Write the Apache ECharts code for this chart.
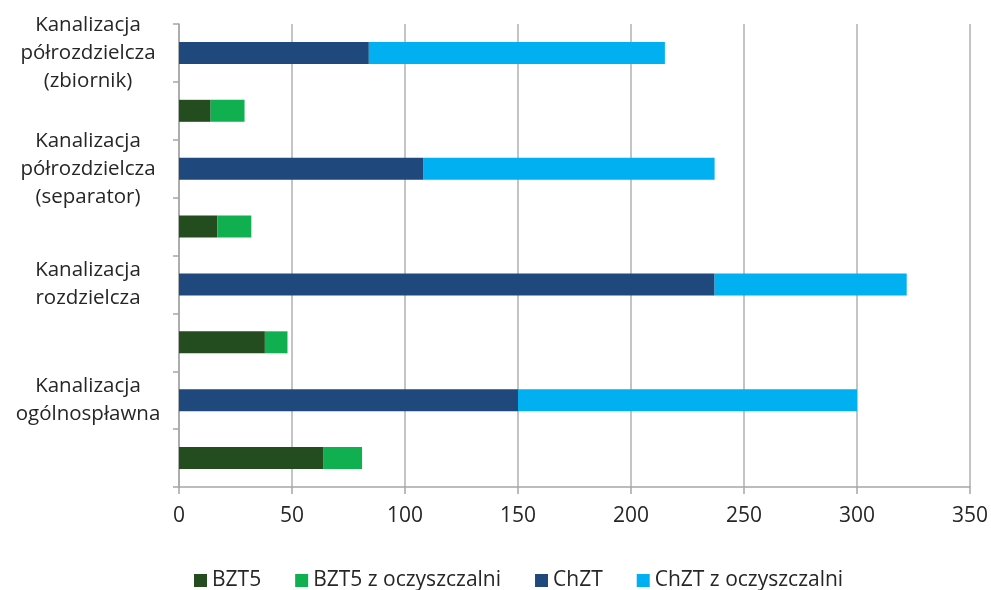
<!DOCTYPE html>
<html>
<head>
<meta charset="utf-8">
<script src="https://cdn.jsdelivr.net/npm/echarts@6/dist/echarts.min.js"></script>
<style>
  html, body { margin: 0; padding: 0; background: #fff; }
  #main { width: 991px; height: 590px; }
</style>
</head>
<body>
<div id="main"></div>
<script>
// rows from top to bottom: ChZT row, then BZT5 row, for each type of sewer
var rows = ['zb_chzt', 'zb_bzt', 'sep_chzt', 'sep_bzt', 'roz_chzt', 'roz_bzt', 'ogo_chzt', 'ogo_bzt'];
var rowLabels = [
  'Kanalizacja\npółrozdzielcza\n(zbiornik)', '',
  'Kanalizacja\npółrozdzielcza\n(separator)', '',
  'Kanalizacja\nrozdzielcza', '',
  'Kanalizacja\nogólnospławna', ''
];
var bzt5 = ['-', 14, '-', 17, '-', 38, '-', 64];
var bzt5Oczysz = ['-', 15, '-', 15, '-', 10, '-', 17];
var chzt = [84, '-', 108, '-', 237, '-', 150, '-'];
var chztOczysz = [131, '-', 129, '-', 85, '-', 150, '-'];
var xTicks = { min: 0, max: 350, step: 50 };

var myChart = echarts.init(document.getElementById('main'));
var fontFam = '"Open Sans", sans-serif';

function bar(name, data, color) {
  return {
    name: name,
    type: 'bar',
    stack: 'all',
    barWidth: 22,
    data: data,
    itemStyle: { color: color },
    emphasis: { disabled: true }
  };
}

var option = {
  animation: false,
  textStyle: { fontFamily: fontFam },
  grid: { left: 179, right: 20, top: 24, bottom: 103, containLabel: false },
  legend: {
    top: 565,
    left: 189,
    icon: 'rect',
    itemWidth: 13,
    itemHeight: 13,
    itemGap: 34,
    textStyle: { fontSize: 21, color: '#262626', fontFamily: fontFam, padding: [0, 0, 0, 0] },
    data: ['BZT5', 'BZT5 z oczyszczalni', 'ChZT', 'ChZT z oczyszczalni']
  },
  xAxis: {
    type: 'value',
    min: xTicks.min,
    max: xTicks.max,
    interval: xTicks.step,
    axisLine: { show: true, lineStyle: { color: '#a6a6a6', width: 1.5 } },
    axisTick: { show: true, length: 7, lineStyle: { color: '#a6a6a6', width: 1.5 } },
    splitLine: { show: true, lineStyle: { color: '#b0b0b0', width: 1.5 } },
    axisLabel: { fontSize: 21, color: '#262626', margin: 19, fontFamily: fontFam }
  },
  yAxis: {
    type: 'category',
    inverse: true,
    data: rows,
    axisLine: { show: true, lineStyle: { color: '#a6a6a6', width: 1.5 } },
    axisTick: { show: true, length: 6, lineStyle: { color: '#a6a6a6', width: 1.5 } },
    axisLabel: {
      interval: 0,
      align: 'center',
      margin: 91,
      fontSize: 20.5,
      lineHeight: 28,
      color: '#262626',
      fontFamily: fontFam,
      formatter: function (v, i) { return rowLabels[i]; }
    }
  },
  series: [
    bar('BZT5', bzt5, '#234d1f'),
    bar('BZT5 z oczyszczalni', bzt5Oczysz, '#10b050'),
    bar('ChZT', chzt, '#1f497d'),
    bar('ChZT z oczyszczalni', chztOczysz, '#00b0f0')
  ]
};

myChart.setOption(option);
</script>
</body>
</html>
